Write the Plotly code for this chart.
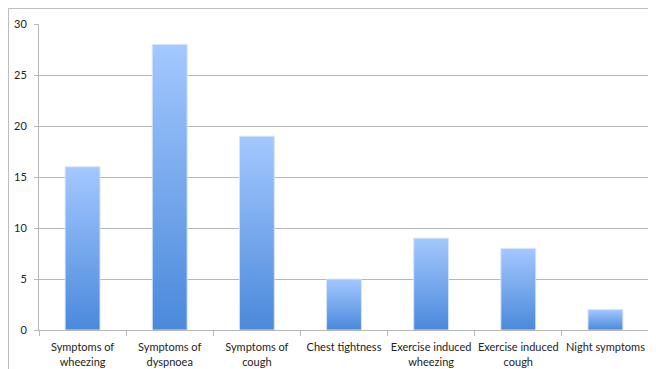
import plotly.graph_objects as go

categories = ["Symptoms of<br>wheezing", "Symptoms of<br>dyspnoea", "Symptoms of<br>cough",
              "Chest tightness", "Exercise induced<br>wheezing", "Exercise induced<br>cough",
              "Night symptoms"]
values = [16, 28, 19, 5, 9, 8, 2]
y_ticks = [0, 5, 10, 15, 20, 25, 30]

BAR_HALF = 0.2
GRID = "#B7B7B7"
FONT = "Lato, 'Open Sans', sans-serif"

fig = go.Figure()

# category axis host (invisible bars carry the categories)
fig.add_trace(go.Bar(x=categories, y=values, opacity=0,
                     marker=dict(color="rgba(0,0,0,0)", line=dict(width=0)),
                     hoverinfo="skip", showlegend=False))

# gradient-filled bars drawn on an overlaid numeric axis
for i, v in enumerate(values):
    fig.add_trace(go.Scatter(
        x=[i - BAR_HALF, i + BAR_HALF, i + BAR_HALF, i - BAR_HALF, i - BAR_HALF],
        y=[0, 0, v, v, 0],
        xaxis="x2", mode="lines", fill="toself",
        line=dict(width=1, color="rgba(215,228,245,0.9)"),
        fillgradient=dict(type="vertical",
                          colorscale=[[0, "#4A89DB"], [1, "#A4C8FF"]]),
        hoverinfo="skip", showlegend=False,
    ))

# page body has an 8px default margin, so the figure is offset by 8px
fig.update_layout(
    width=648, height=361,
    margin=dict(l=31, r=7, t=16, b=39),
    paper_bgcolor="white", plot_bgcolor="white",
    font=dict(family=FONT, size=11, color="#222222"),
    xaxis=dict(type="category", range=[-0.5, 6.5], tickson="boundaries",
               ticks="outside", ticklen=5, tickcolor=GRID, tickangle=0,
               automargin=False, ticklabelstandoff=7,
               showline=True, linecolor=GRID, linewidth=1,
               showgrid=False, tickfont=dict(size=11, color="#222222")),
    xaxis2=dict(overlaying="x", range=[-0.5, 6.5], visible=False),
    yaxis=dict(range=[0, 30], tickvals=y_ticks, showgrid=True, gridcolor=GRID,
               gridwidth=1, showline=True, linecolor=GRID, linewidth=1,
               ticks="outside", ticklen=4, tickcolor=GRID, zeroline=False,
               automargin=False, ticklabelstandoff=5,
               tickfont=dict(size=11, color="#222222")),
    shapes=[dict(type="rect", xref="paper", yref="paper",
                 x0=(0.5 - 31) / 610, x1=1.2, y0=-0.3, y1=1 + (16 - 0.5) / 306,
                 line=dict(color="#BDBDBD", width=1), layer="below")],
)

fig.write_html("out.html")
